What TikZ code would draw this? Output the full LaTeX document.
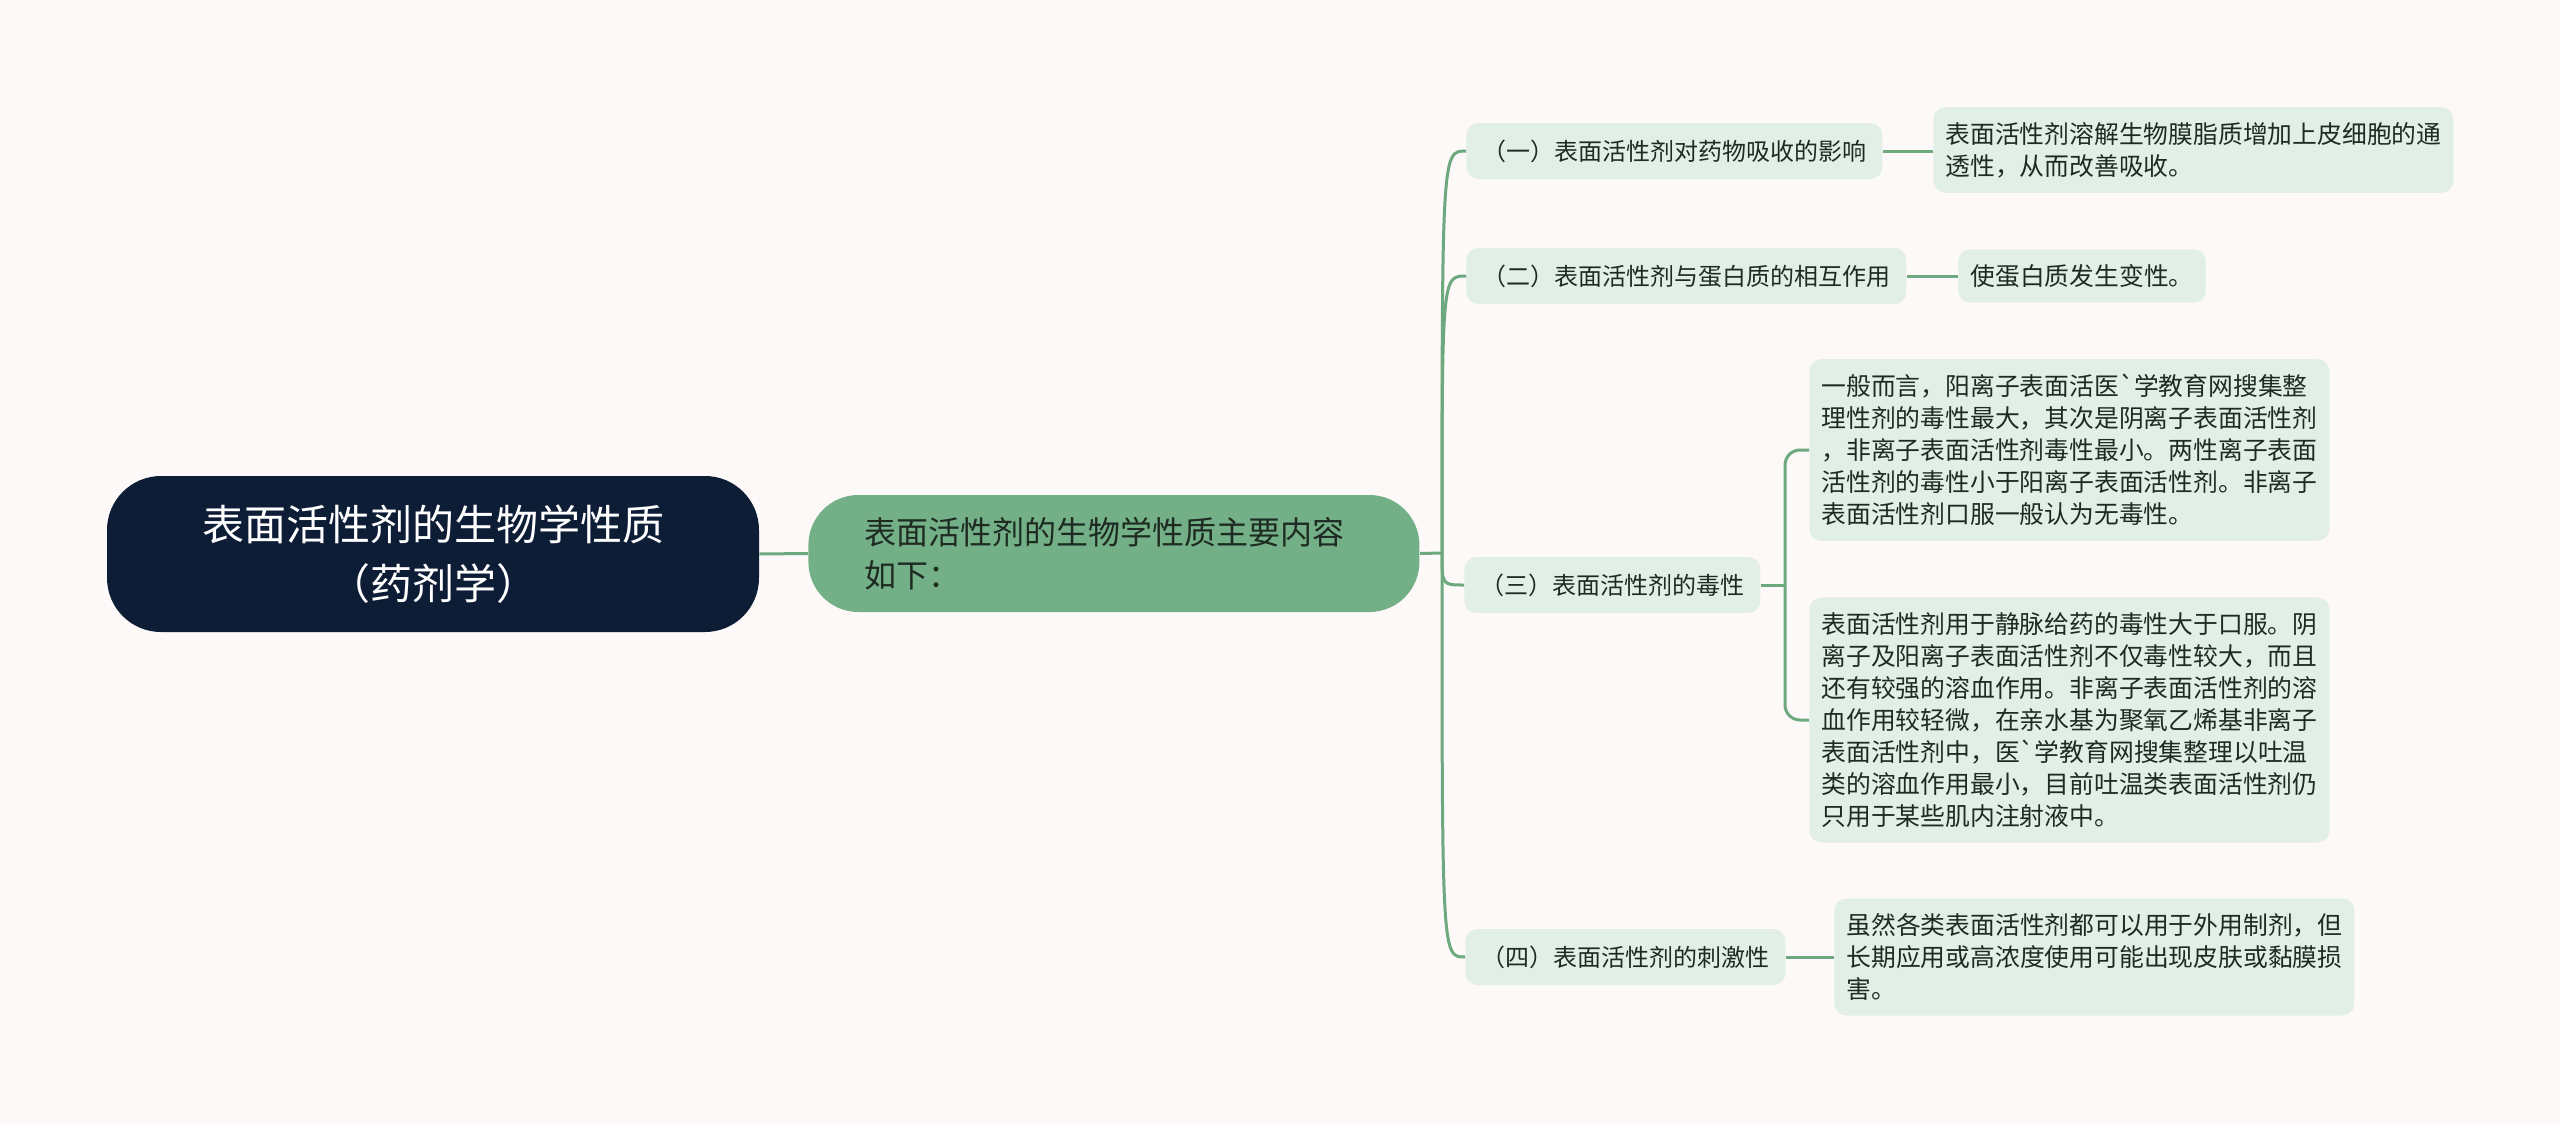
\documentclass[tikz,border=0pt]{standalone}
\usepackage{fontspec}
\newfontfamily\cjkfont{Noto Sans CJK SC}

\definecolor{bgcol}{HTML}{FCF9F8}
\definecolor{rootcol}{HTML}{0E1D36}
\definecolor{maincol}{HTML}{74B087}
\definecolor{leafcol}{HTML}{E2EFE6}
\definecolor{linecol}{HTML}{6DA87E}
\definecolor{textcol}{HTML}{1E2B22}

\tikzset{
	rootbox/.style={fill=rootcol, text=white, rounded corners=27pt, align=center,
		minimum width=326pt, minimum height=78pt, inner sep=0pt,
		font=\cjkfont\fontsize{21}{29.5}\selectfont},
	mainbox/.style={fill=maincol, text=textcol, rounded corners=25pt, align=left,
		anchor=west, text width=249.5pt, minimum height=58.5pt, inner xsep=28pt, inner ysep=0pt,
		font=\cjkfont\fontsize{16}{21.5}\selectfont},
	topicbox/.style={fill=leafcol, text=textcol, rounded corners=6pt, anchor=west,
		inner xsep=8pt, inner ysep=0pt, minimum height=28pt,
		font=\cjkfont\fontsize{12}{16}\selectfont},
	notebox/.style={fill=leafcol, text=textcol, rounded corners=6pt, anchor=west, align=left,
		inner xsep=6pt, inner ysep=7.5pt,
		font=\cjkfont\fontsize{12.4}{16}\selectfont},
	branch/.style={draw=linecol, line width=1.5pt},
}

\begin{document}
\begin{tikzpicture}[x=0.5pt,y=-0.5pt]
	\fill[bgcol] (0,0) rectangle (2560,1124);
	\useasboundingbox (0,0) rectangle (2560,1124);

	% centre
	\node[rootbox] (root) at (433,554) {表面活性剂的生物学性质\\（药剂学）};
	\node[mainbox] (main) at (808,553.5) {表面活性剂的生物学性质主要内容\\如下：};
	\coordinate (hub) at (1442,553);

	% topics
	\node[topicbox] (t1) at (1466,151) {（一）表面活性剂对药物吸收的影响};
	\node[topicbox] (t2) at (1466,276) {（二）表面活性剂与蛋白质的相互作用};
	\node[topicbox] (t3) at (1464,585) {（三）表面活性剂的毒性};
	\node[topicbox] (t4) at (1465,957) {（四）表面活性剂的刺激性};

	% notes
	\node[notebox] (n1) at (1933,150) {表面活性剂溶解生物膜脂质增加上皮细胞的通\\透性，从而改善吸收。};
	\node[notebox] (n2) at (1958,276) {使蛋白质发生变性。};
	\node[notebox] (n3a) at (1809,450) {一般而言，阳离子表面活医`学教育网搜集整\\理性剂的毒性最大，其次是阴离子表面活性剂\\，非离子表面活性剂毒性最小。两性离子表面\\活性剂的毒性小于阳离子表面活性剂。非离子\\表面活性剂口服一般认为无毒性。};
	\node[notebox] (n3b) at (1809,720) {表面活性剂用于静脉给药的毒性大于口服。阴\\离子及阳离子表面活性剂不仅毒性较大，而且\\还有较强的溶血作用。非离子表面活性剂的溶\\血作用较轻微，在亲水基为聚氧乙烯基非离子\\表面活性剂中，医`学教育网搜集整理以吐温\\类的溶血作用最小，目前吐温类表面活性剂仍\\只用于某些肌内注射液中。};
	\node[notebox] (n4) at (1834,957) {虽然各类表面活性剂都可以用于外用制剂，但\\长期应用或高浓度使用可能出现皮肤或黏膜损\\害。};

	% connectors
	\draw[branch] (root.east) -- (main.west);
	\draw[branch] (main.east) -- (hub);
	\foreach \t in {t1,t2,t3,t4}
		\draw[branch] (hub) .. controls (hub |- \t.west) .. (\t.west);
	\draw[branch] (t1.east) -- (t1.east -| n1.west);
	\draw[branch] (t2.east) -- (t2.east -| n2.west);
	\draw[branch] (t4.east) -- (t4.east -| n4.west);
	\coordinate (fork) at (1785,585);
	\draw[branch] (t3.east) -- (fork);
	\draw[branch, rounded corners=7.5pt] (fork) -- (fork |- n3a.west) -- (n3a.west);
	\draw[branch, rounded corners=7.5pt] (fork) -- (fork |- n3b.west) -- (n3b.west);
\end{tikzpicture}
\end{document}
